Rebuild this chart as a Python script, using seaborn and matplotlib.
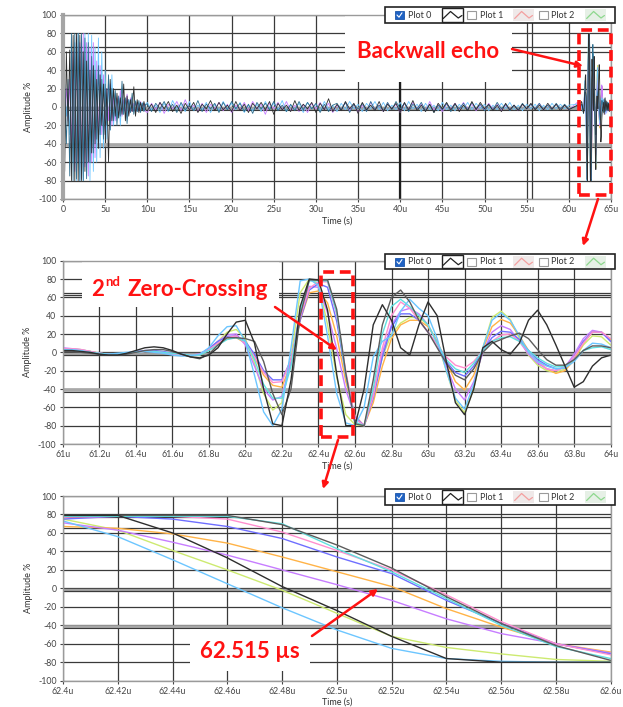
import numpy as np
import pandas as pd
import matplotlib
matplotlib.use("Agg")
import matplotlib.pyplot as plt
import seaborn as sns
from matplotlib.patches import Rectangle, FancyArrowPatch

sns.set_style("white")
plt.rcParams['font.family'] = ['Lato', 'DejaVu Sans']
plt.rcParams['axes.unicode_minus'] = False

W, H, DPI = 623, 707, 100

# ---------------- colours ----------------
COLORS = {
    'A': '#2e2e2e', 'B': '#5c5c5c', 'LB': '#6cc6ff', 'YG': '#cdea70',
    'V': '#c77dff', 'O': '#ffb347', 'BL': '#6f6fff', 'P': '#ff8fcf',
    'C': '#5fe0e0', 'T': '#2e6e8e',
}

# ---------------- top panel: full A-scan (0 - 65 us) ----------------
burst_step, noise_start, noise_step = 0.2, 10.0, 0.5
burst_black = [10, -70, 60, -20, 62, -80, 78, -80, 80, -80, 78, -80, 60, -70, 50, -60, 40, -50, 45, -40,
               30, -45, 35, -20, 25, -30, 20, -60, 30, -15, 20, -10, 15, -12, 10, -8, 25, -15, 12, -10,
               8, -5, 22, -10, 8, -6, 5, -4, 6, -3]
burst_teal = [20, 5, -40, 30, -75, 80, -80, 80, -78, 80, -80, 80, -80, 75, -78, 70, -60, 55, -50, 40,
              -35, 45, -30, 30, -35, 25, -20, 35, -25, 20, -15, 18, -20, 12, -10, 28, -8, 10, -18, 8,
              -6, 15, -8, 6, -5, 7, -6, 4, -5, 3]
burst_cyan = [15, 25, -10, 10, -30, 40, -60, 70, -80, 80, -80, 78, -80, 80, -75, 80, -80, 78, -70, 65,
              -60, 75, -55, 60, -45, 40, -35, 30, -25, 35, -20, 15, -12, 10, -20, 12, -8, 6, -10, 8,
              -6, 5, -4, 7, -5, 4, -3, 5, -4, 3]
burst_magenta = [5, -5, 20, -15, 30, -50, 60, -70, 78, -60, 70, -78, 80, -65, 70, -75, 65, -60, 70, -55,
                 50, -40, 45, -30, 35, -25, 20, -15, 25, -20, 12, -15, 10, -8, 18, -10, 8, -6, 14, -8,
                 10, -5, 4, -6, 5, -4, 6, -3, 4, -5]
noise_black = [-4, 3, -6, 5, -2, 6, -5, 2, -7, 4, -3, 5, -6, 3, -2, 7, -4, 5, -3, 2, -5, 6, -4, 3, -6,
               4, -2, 5, -3, 6, -8, 4, -3, 2, -5, 7, -4, 3, -2, 5, -6, 4, -3, 9, -5, 3, -4, 6, -2, 4,
               -7, 5, -3, 2, -4, 6, -5, 3, -2, 4, -6, 5, -3, 7, -4, 2, -5, 3, -6, 4, -2, 5, -3, 4, -5,
               2, -4, 6, -3, 5, -2, 3, -4, 2, -5, 4, -3, 2, -4, 3, -2, 4, -3, 2, -3, 4, -2, 3, -4, 2, -3]
noise_teal = [3, -5, 4, -2, 6, -4, 3, -6, 5, -3, 2, -4, 7, -5, 3, -2, 4, -6, 5, -3, 6, -2, 4, -5, 3,
              -7, 5, -2, 4, -3, 6, -4, 2, -5, 3, -4, 6, -3, 5, -2, 4, -6, 3, -5, 2, 4, -3, 5, -6, 3,
              -2, 4, -5, 6, -3, 2, -4, 5, -3, 6, -2, 4, -5, 3, -2, 5, -4, 3, -6, 2, -3, 4, -5, 3, -2,
              4, -3, 5, -2, 3, -4, 2, -3, 5, -2, 3, -4, 2, -3, 4, -2, 3, -2, 4, -3, 2, -3, 4, -2, 3, -2]
noise_cyan = [5, -3, 2, -6, 4, -5, 7, -2, 3, -5, 6, -4, 2, -3, 5, -6, 3, -4, 6, -2, 4, -3, 5, -6, 2,
              -4, 3, -5, 6, -2, 4, -3, 7, -5, 2, -3, 4, -6, 5, -2, 3, -4, 6, -3, 2, -5, 4, -3, 6, -2,
              3, -5, 4, -2, 6, -3, 5, -4, 2, -3, 5, -4, 6, -2, 3, -5, 4, -3, 2, -4, 5, -3, 2, -4, 3,
              -2, 5, -3, 4, -2, 3, -4, 2, -3, 4, -2, 5, -3, 2, -4, 3, -2, 3, -4, 2, -3, 4, -2, 3, -2, 2]
noise_magenta = [-6, 4, -3, 5, -7, 3, -2, 6, -4, 8, -3, 2, -5, 4, -6, 3, -2, 5, -4, 3, -6, 2, -3, 5, -4,
                 6, -2, 3, -8, 4, -2, 5, -3, 6, -4, 2, -5, 3, -6, 4, -2, 5, -3, 4, -6, 2, -3, 5, -4, 3,
                 -6, 2, -4, 5, -3, 2, -5, 4, -2, 3, -6, 4, -3, 5, -2, 3, -4, 6, -3, 2, -5, 3, -2, 4, -3,
                 5, -2, 3, -4, 2, -3, 4, -2, 3, -4, 2, -3, 2, -4, 3, -2, 3, -2, 4, -3, 2, -2, 3, -2, 2, -3]
tail_start, tail_step = 64.1, 0.1
tail_black = [5, -8, 10, -4, 6, -3, 4, -5, 3, -2]
tail_teal = [-6, 9, -5, 7, -3, 5, -4, 3, -2, 2]
tail_cyan = [8, -5, 6, -7, 4, -3, 5, -2, 3, -1]
tail_magenta = [-4, 6, -8, 5, -6, 4, -3, 2, -3, 2]

# ---------------- middle panel: backwall echo (61 - 64 us, step 0.05 us) ----------------
mid_start, mid_step = 61.0, 0.05
mid_LB = [3, 3, 2, 0, -2, -2, -1, 0, 1, 1, 0, -1, -3, -4, -4, -2,
          5, 18, 28, 29, 12, -25, -65, -80, -62,
          5, 78, 80, 73, 18, -45, -77, -80, -60,
          -5, 12, 18, 45, 58, 48, 40, 15, -20,
          -50, -62, -35, 5, 35, 43, 35, 18, 0,
          -10, -15, -18, -17, -10, 2, 10, 9, 5]
mid_YG = [4, 4, 3, 1, -1, -2, -2, -1, 0, 1, 1, 0, -2, -3, -4, -3,
          3, 12, 22, 25, 15, -12, -45, -63, -55,
          -5, 65, 80, 75, 30, -27, -68, -79, -80,
          -45, -5, 20, 32, 38, 38, 30, 12, -20,
          -52, -66, -40, 5, 38, 45, 36, 15, -3,
          -14, -20, -22, -18, -8, 8, 18, 17, 8]
mid_A = [2, 2, 1, 0, -2, -3, -3, -1, 2, 5, 6, 5, 2, -2, -5, -6,
         -3, 5, 20, 33, 35, 10, -40, -78, -80,
         -30, 50, 80, 79, 46, -24, -80, -80, -40,
         30, 52, 35, 5, -3, 30, 55, 40, -10,
         -55, -68, -40, 5, 12, 3, -2, 10, 35,
         46, 30, 8, -15, -38, -32, -15, -6, -3]
mid_B = [1, 1, 0, -1, -2, -3, -3, -2, 0, 2, 3, 3, 1, -2, -5, -7,
         -2, 8, 16, 16, 15, 12, -10, -45, -68,
         -40, 40, 79, 79, 79, 47, -23, -78, -80,
         -30, 30, 60, 68, 55, 35, 22, 5, -12,
         -25, -30, -18, 0, 10, 14, 18, 21, 15,
         3, -8, -14, -14, -8, 2, 7, 7, 5]
mid_V = [5, 4, 3, 1, -1, -2, -2, -1, 0, 1, 1, 0, -2, -3, -3, -2,
         4, 12, 19, 20, 8, -15, -40, -52, -48,
         -10, 45, 72, 71, 43, 4, -41, -70, -80,
         -45, 0, 30, 45, 48, 42, 30, 10, -15,
         -40, -52, -32, 0, 22, 29, 25, 12, -2,
         -12, -18, -20, -16, -2, 15, 24, 22, 12]
mid_O = [2, 3, 2, 1, -1, -2, -2, -1, 0, 1, 1, 0, -1, -3, -3, -2,
         3, 10, 15, 16, 10, -5, -25, -36, -38,
         -12, 35, 65, 67, 54, 18, -32, -69, -80,
         -55, -15, 15, 30, 35, 35, 28, 12, -10,
         -32, -41, -25, 3, 28, 36, 32, 18, 2,
         -10, -18, -23, -20, -8, 10, 22, 22, 14]
mid_BL = [3, 3, 2, 0, -1, -2, -2, -1, 1, 2, 2, 1, -1, -2, -3, -2,
          4, 12, 17, 18, 12, -2, -20, -30, -30,
          -8, 35, 68, 75, 71, 34, -25, -71, -80,
          -50, -5, 28, 42, 42, 35, 22, 8, -10,
          -22, -26, -15, 2, 16, 23, 22, 14, 2,
          -8, -14, -18, -17, -5, 12, 22, 22, 12]
mid_P = [4, 4, 3, 1, -1, -2, -2, -1, 0, 1, 1, 0, -2, -3, -3, -2,
         3, 10, 16, 18, 10, -5, -22, -33, -32,
         -8, 38, 70, 77, 77, 41, -21, -72, -80,
         -48, 5, 40, 55, 48, 35, 22, 8, -5,
         -14, -17, -10, 2, 12, 19, 20, 12, 0,
         -10, -18, -20, -16, -5, 10, 22, 22, 15]
mid_C = [2, 2, 1, 0, -1, -2, -2, -1, 0, 1, 1, 0, -1, -2, -3, -3,
         2, 8, 14, 16, 12, -8, -35, -50, -50,
         -15, 45, 78, 78, 78, 43, -25, -76, -80,
         -40, 20, 50, 58, 50, 40, 30, 10, -8,
         -18, -22, -12, 2, 12, 16, 17, 12, 2,
         -6, -12, -16, -15, -8, 2, 5, 6, 3]

# ---------------- bottom panel: falling edge (62.40 - 62.60 us, step 0.02 us) ----------------
zoom_start, zoom_step = 62.40, 0.02
zoom_LB = [73, 56, 31, 5, -21, -45, -65, -76, -79, -80, -80]
zoom_YG = [75, 63, 41, 20, -2, -27, -52, -64, -71, -77, -79]
zoom_A = [79, 79, 60, 33, 2, -24, -52, -76, -80, -80, -80]
zoom_V = [71, 63, 50, 36, 20, 4, -13, -33, -49, -60, -70]
zoom_O = [67, 65, 59, 49, 34, 18, 2, -22, -42, -60, -69]
zoom_BL = [75, 78, 75, 67, 54, 34, 16, -13, -38, -60, -71]
zoom_P = [77, 78, 78, 75, 61, 41, 20, -7, -36, -60, -72]
zoom_C = [78, 78, 78, 78, 70, 43, 18, -11, -40, -63, -76]
zoom_B = [79, 79, 79, 79, 69, 47, 22, -9, -38, -62, -78]

# ---------------- tick labels ----------------
top_ticks = list(range(0, 70, 5))
top_labels = ['0', '5u', '10u', '15u', '20u', '25u', '30u', '35u', '40u', '45u', '50u', '55u', '60u', '65u']
mid_ticks = [61.0, 61.2, 61.4, 61.6, 61.8, 62.0, 62.2, 62.4, 62.6, 62.8, 63.0, 63.2, 63.4, 63.6, 63.8, 64.0]
mid_labels = ['61u', '61.2u', '61.4u', '61.6u', '61.8u', '62u', '62.2u', '62.4u', '62.6u', '62.8u',
              '63u', '63.2u', '63.4u', '63.6u', '63.8u', '64u']
bot_ticks = [62.40, 62.42, 62.44, 62.46, 62.48, 62.50, 62.52, 62.54, 62.56, 62.58, 62.60]
bot_labels = ['62.4u', '62.42u', '62.44u', '62.46u', '62.48u', '62.5u', '62.52u', '62.54u', '62.56u',
              '62.58u', '62.6u']
y_ticks = list(range(-100, 101, 20))


def times(start, step, n):
    return start + step * np.arange(n)


mid = {'A': mid_A, 'B': mid_B, 'LB': mid_LB, 'YG': mid_YG, 'V': mid_V, 'O': mid_O,
       'BL': mid_BL, 'P': mid_P, 'C': mid_C}
zoom = {'A': zoom_A, 'B': zoom_B, 'LB': zoom_LB, 'YG': zoom_YG, 'V': zoom_V, 'O': zoom_O,
        'BL': zoom_BL, 'P': zoom_P, 'C': zoom_C}


def full_trace(burst, noise, echo, tail):
    t = np.concatenate([times(0.0, burst_step, len(burst)),
                        times(noise_start, noise_step, len(noise)),
                        times(mid_start, mid_step, len(echo)),
                        times(tail_start, tail_step, len(tail))])
    v = np.concatenate([burst, noise, echo, tail])
    return t, v


top_series = {}
top_series['T'] = full_trace(burst_teal, noise_teal, mid_B, tail_teal)
top_series['A'] = full_trace(burst_black, noise_black, mid_A, tail_black)
top_series['LB'] = full_trace(burst_cyan, noise_cyan, mid_LB, tail_cyan)
top_series['V'] = full_trace(burst_magenta, noise_magenta, mid_V, tail_magenta)
for k in ['YG', 'O', 'BL', 'P', 'C']:
    top_series[k] = (times(mid_start, mid_step, len(mid[k])), np.array(mid[k]))


def long_df(series):
    frames = [pd.DataFrame({'t': np.round(t, 4), 'v': v, 'series': k}) for k, (t, v) in series.items()]
    return pd.concat(frames, ignore_index=True)


fig = plt.figure(figsize=(W / DPI, H / DPI), dpi=DPI)
fig.patch.set_facecolor('white')


def px_axes(l, t, r, b):
    return fig.add_axes([l / W, 1 - b / H, (r - l) / W, (b - t) / H])


def style(ax, xlim, ticks, labels):
    ax.set_xlim(*xlim)
    ax.set_ylim(-100, 100)
    ax.set_xticks(ticks)
    ax.set_xticklabels(labels)
    ax.set_yticks(y_ticks)
    ax.grid(True, color='#3a3a3a', linewidth=0.9)
    ax.set_axisbelow(True)
    for s in ax.spines.values():
        s.set_color('#9a9a9a')
        s.set_linewidth(1.0)
    ax.tick_params(labelsize=6.3, colors='#444444', length=2.5, width=0.8, pad=2,
                   left=True, bottom=True)
    ax.set_xlabel('Time (s)', fontsize=6.5, color='#333333', labelpad=1.5)
    ax.set_ylabel('Amplitude %', fontsize=6.5, color='#333333', labelpad=4)
    ax.axhline(-1.5, color='#a0a0a0', linewidth=2.4, zorder=0.6)
    ax.axhline(-3, color='#3a3a3a', linewidth=0.8, zorder=0.7)
    ax.axhline(-41.5, color='#a8a8a8', linewidth=2.6, zorder=0.6)
    ax.axhline(-43, color='#3a3a3a', linewidth=0.8, zorder=0.7)
    ax.axhline(65, color='#3a3a3a', linewidth=0.9, zorder=0.7)


def draw(ax, series, lw, order=None):
    df = long_df(series)
    order = order or list(series.keys())
    sns.lineplot(data=df, x='t', y='v', hue='series', hue_order=order,
                 palette={k: COLORS[k] for k in order}, estimator=None, sort=False,
                 legend=False, linewidth=lw, ax=ax)


RED = '#ff1212'

# ---- top ----
ax1 = px_axes(63, 15, 611, 199)
style(ax1, (0, 65), top_ticks, top_labels)
ax1.spines['left'].set_linewidth(3)
ax1.spines['left'].set_color('#a5a5a5')
ax1.axvline(40, color='#1e1e1e', linewidth=1.6, zorder=0.7)
ax1.axvline(55.6, color='#3a3a3a', linewidth=0.9, zorder=0.7)
ax1.add_patch(Rectangle((33.4, 27), 19.9, 73, facecolor='white', edgecolor='none', zorder=1))
draw(ax1, top_series, 0.6, ['YG', 'O', 'BL', 'P', 'C', 'V', 'LB', 'T', 'A'])
ax1.add_patch(Rectangle((61.25, -95.5), 3.72, 179, fill=False, edgecolor=RED, linewidth=2.6,
                        linestyle=(0, (3, 1.6)), clip_on=False, zorder=5))

# ---- middle ----
ax2 = px_axes(62.7, 260.7, 610.7, 444)
style(ax2, (61, 64), mid_ticks, mid_labels)
ax2.axhline(63, color='#3a3a3a', linewidth=0.9, zorder=0.7)
ax2.add_patch(Rectangle((61.105, 50), 1.08, 50, facecolor='white', edgecolor='none', zorder=1))
mid_series = {k: (times(mid_start, mid_step, len(v)), np.array(v)) for k, v in mid.items()}
draw(ax2, mid_series, 1.0, ['YG', 'O', 'V', 'BL', 'P', 'C', 'LB', 'B', 'A'])
ax2.add_patch(Rectangle((62.412, -92), 0.175, 180, fill=False, edgecolor=RED, linewidth=2.6,
                        linestyle=(0, (3, 1.6)), clip_on=False, zorder=5))

# ---- bottom ----
ax3 = px_axes(63, 496, 610.7, 680.7)
style(ax3, (62.4, 62.6), bot_ticks, bot_labels)
ax3.axhline(77, color='#3a3a3a', linewidth=0.9, zorder=0.7)
ax3.add_patch(Rectangle((62.4464, -89), 0.0438, 45, facecolor='white', edgecolor='none', zorder=1))
zoom_series = {k: (times(zoom_start, zoom_step, len(v)), np.array(v)) for k, v in zoom.items()}
draw(ax3, zoom_series, 1.0, ['YG', 'O', 'V', 'BL', 'P', 'C', 'LB', 'B', 'A'])

# ---- overlay in pixel coordinates (y down) ----
ov = fig.add_axes([0, 0, 1, 1])
ov.set_xlim(0, W)
ov.set_ylim(H, 0)
ov.axis('off')
ov.set_zorder(10)
ov.patch.set_alpha(0)


def wave(x0, x1, yc, color):
    xs = x0 + (x1 - x0) * np.array([0.08, 0.42, 0.78, 0.95])
    ys = yc + np.array([3.5, -3.5, 3.0, 0.5])
    ov.plot(xs, ys, color=color, linewidth=0.9)


def legend(yc):
    top, h = yc - 7.7, 15.4
    ov.add_patch(Rectangle((385, top), 230, h, facecolor='white', edgecolor='#222222', linewidth=1.2))
    ov.add_patch(Rectangle((395, yc - 4.2), 8.5, 8.5, facecolor='#1f62c4', edgecolor='#1a55aa', linewidth=0.6))
    ov.plot([397, 399, 402], [yc, yc + 2.2, yc - 2.2], color='white', linewidth=0.8)
    ov.text(408, yc, 'Plot 0', fontsize=6.5, color='#333333', va='center', ha='left')
    ov.add_patch(Rectangle((441.5, top + 1), 21.5, h - 2, facecolor='white', edgecolor='#222222', linewidth=1.0))
    wave(441.5, 463, yc, '#222222')
    ov.add_patch(Rectangle((467, yc - 4.2), 8.5, 8.5, facecolor='white', edgecolor='#9a9a9a', linewidth=0.8))
    ov.text(480, yc, 'Plot 1', fontsize=6.5, color='#333333', va='center', ha='left')
    ov.add_patch(Rectangle((513, top + 1.5), 20.5, h - 3, facecolor='#efe9e9', edgecolor='none'))
    wave(513, 533.5, yc, '#f4a0a0')
    ov.add_patch(Rectangle((539, yc - 4.2), 8.5, 8.5, facecolor='white', edgecolor='#9a9a9a', linewidth=0.8))
    ov.text(551, yc, 'Plot 2', fontsize=6.5, color='#333333', va='center', ha='left')
    ov.add_patch(Rectangle((585, top + 1.5), 20.5, h - 3, facecolor='#e6f0e6', edgecolor='none'))
    wave(585, 605.5, yc, '#8ed88e')


legend(15)
legend(261.7)
legend(497)


def arrow(p0, p1):
    ov.add_patch(FancyArrowPatch(p0, p1, arrowstyle='-|>', mutation_scale=9, color=RED,
                                 linewidth=1.8, shrinkA=0, shrinkB=0))


arrow((512, 49), (583, 66))
arrow((598, 199), (583, 246))
arrow((275, 307), (337, 350))
arrow((338, 440), (323, 489))
arrow((312, 636), (378, 589))

bold = dict(fontfamily=['Lato', 'DejaVu Sans'], fontweight='bold', color=RED)
ov.text(428, 52, 'Backwall echo', fontsize=16, ha='center', va='center', **bold)
ov.text(91, 289, '2', fontsize=16, ha='left', va='center', **bold)
ov.text(105.5, 281.5, 'nd', fontsize=9.5, ha='left', va='center', **bold)
ov.text(128, 289, 'Zero-Crossing', fontsize=16, ha='left', va='center', **bold)
ov.text(250, 651, '62.515 µs', fontsize=16, ha='center', va='center', **bold)

fig.savefig('out.png', dpi=DPI, facecolor='white')
